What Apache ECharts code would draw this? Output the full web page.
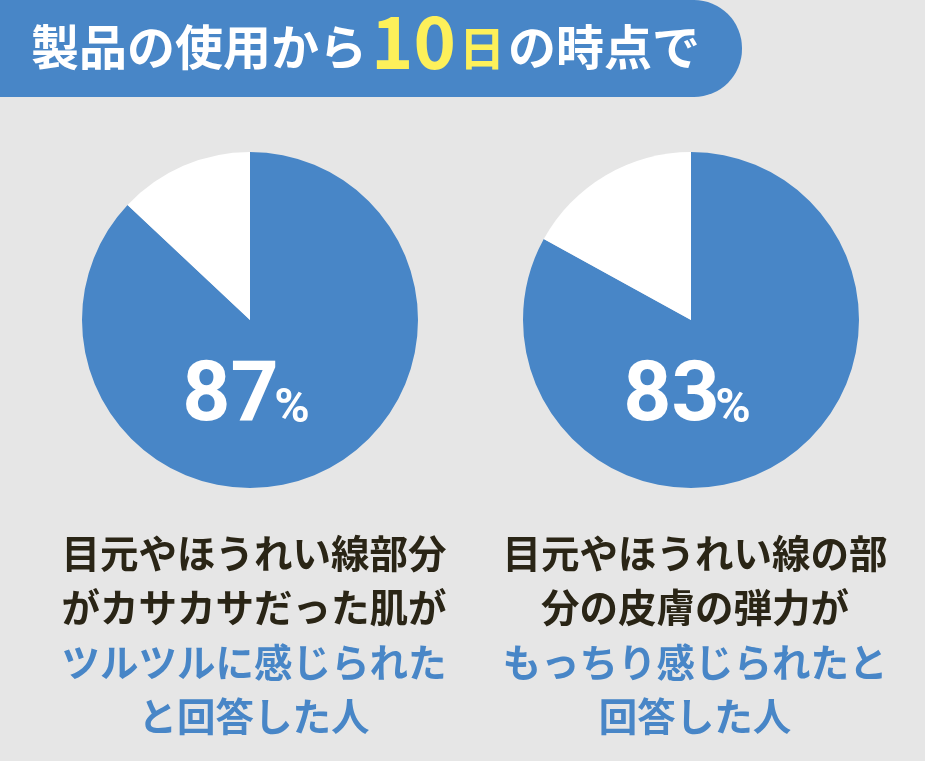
<!DOCTYPE html>
<html><head><meta charset="utf-8">
<script src="https://cdn.jsdelivr.net/npm/echarts@6/dist/echarts.min.js"></script>
<style>html,body{margin:0;padding:0;background:#e6e6e6}#c{width:925px;height:761px}</style>
</head><body><div id="c"></div>
<script>
const headingParts = ['製品の使用から', '10', '日', 'の時点で'];
const percents = [87, 83];
const captionDark = [['目元やほうれい線部分', 'がカサカサだった肌が'], ['目元やほうれい線の部', '分の皮膚の弾力が']];
const captionBlue = [['ツルツルに感じられた', 'と回答した人'], ['もっちり感じられたと', '回答した人']];
const centersX = [250, 691];

const BLUE = '#4886c7';
const chart = echarts.init(document.getElementById('c'));
const JP = '"Noto Sans CJK JP", "Noto Sans", sans-serif';

const series = percents.map((p, i) => ({
  type: 'pie',
  center: [centersX[i], 320],
  radius: [0, 168],
  startAngle: 90,
  clockwise: true,
  silent: true,
  label: { show: false },
  labelLine: { show: false },
  itemStyle: { borderWidth: 0 },
  data: [
    { value: p, itemStyle: { color: BLUE } },
    { value: 100 - p, itemStyle: { color: '#ffffff' } }
  ]
}));

const titles = [];
titles.push({
  text: '{w|' + headingParts[0] + '}{n|' + headingParts[1] + '}{y|' + headingParts[2] + '}{w|' + headingParts[3] + '}',
  left: 26, top: -11,
  textStyle: {
    rich: {
      w: { fontFamily: JP, fontWeight: 'bold', fontSize: 48, color: '#ffffff', lineHeight: 84, verticalAlign: 'bottom', padding: [0,0,7,0] },
      n: { fontFamily: JP, fontWeight: 'bold', fontSize: 72, color: '#fdf05a', lineHeight: 84, verticalAlign: 'bottom', padding: [0,3,0,4] },
      y: { fontFamily: JP, fontWeight: 'bold', fontSize: 46, color: '#fdf05a', lineHeight: 84, verticalAlign: 'bottom', padding: [0,3,7,0] }
    }
  }
});
percents.forEach((p, i) => {
  titles.push({
    text: '{a|' + p + '}{b|%}',
    left: centersX[i] - 9, top: 346, textAlign: 'center',
    textStyle: {
      rich: {
        a: { fontFamily: 'Roboto, sans-serif', fontWeight: 'bold', fontSize: 84, color: '#fff', lineHeight: 90, verticalAlign: 'bottom', width: 92, align: 'left' },
        b: { fontFamily: 'Roboto, sans-serif', fontWeight: 'bold', fontSize: 48, color: '#fff', lineHeight: 90, verticalAlign: 'bottom', padding: [0,0,7,0] }
      }
    }
  });
  const lines = captionDark[i].map(t => '{d|' + t + '}').concat(captionBlue[i].map(t => '{b|' + t + '}'));
  titles.push({
    text: lines.join('\n'),
    left: centersX[i] - 1, top: 521, textAlign: 'center',
    textStyle: {
      rich: {
        d: { fontFamily: JP, fontWeight: 'bold', fontSize: 38.5, color: '#2a2516', lineHeight: 54.5 },
        b: { fontFamily: JP, fontWeight: 'bold', fontSize: 38.5, color: '#4886c7', lineHeight: 54.5 }
      }
    }
  });
});

chart.setOption({
  backgroundColor: '#e6e6e6',
  animation: false,
  graphic: [{
    type: 'rect', z: -1,
    shape: { x: -120, y: 0, width: 862, height: 97, r: 48 },
    style: { fill: BLUE }
  }],
  title: titles,
  series: series
});
</script></body></html>
